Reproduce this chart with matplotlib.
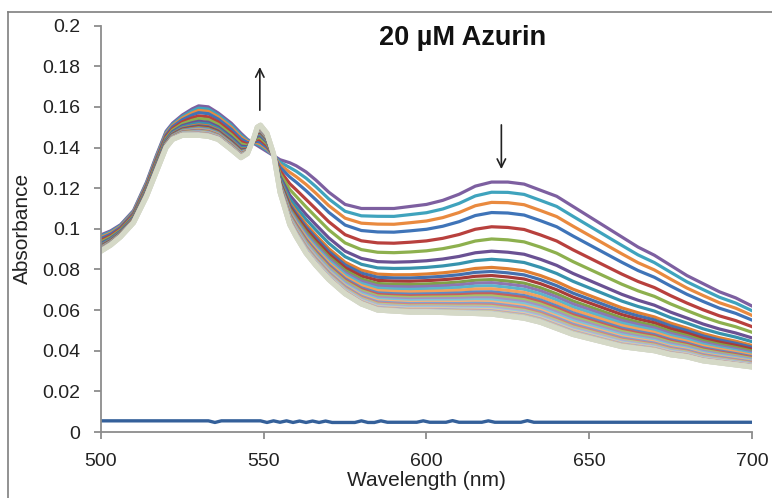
import numpy as np
import matplotlib
matplotlib.use("Agg")
import matplotlib.pyplot as plt
from matplotlib.lines import Line2D
from matplotlib.ticker import FuncFormatter

plt.rcParams['font.family'] = ['Liberation Sans', 'DejaVu Sans']

# wavelength grid (nm) shared by the first and the last spectrum
wavelength = [500, 503, 506, 510, 514, 517, 520, 522, 525, 528, 530, 533, 536, 540, 543,
              545, 547, 548, 549, 551, 553, 555, 558, 560, 563, 566, 570, 575, 580, 585,
              590, 595, 600, 605, 610, 615, 620, 625, 630, 635, 640, 645, 650, 655, 660,
              665, 670, 675, 680, 685, 690, 695, 700]

# first spectrum (highest at 620 nm)
first_spec = [0.097, 0.099, 0.102, 0.109, 0.123, 0.136, 0.148, 0.152, 0.156, 0.159, 0.1605,
              0.160, 0.157, 0.152, 0.147, 0.144, 0.142, 0.141, 0.140, 0.138, 0.136, 0.134,
              0.1325, 0.131, 0.128, 0.124, 0.118, 0.112, 0.110, 0.110, 0.110, 0.111, 0.112,
              0.114, 0.117, 0.121, 0.123, 0.123, 0.122, 0.119, 0.116, 0.111, 0.106, 0.101,
              0.096, 0.091, 0.087, 0.082, 0.077, 0.073, 0.069, 0.066, 0.062]

# last spectrum (lowest at 620 nm, grey)
last_spec = [0.089, 0.092, 0.096, 0.103, 0.116, 0.128, 0.140, 0.144, 0.146, 0.146, 0.146,
             0.1455, 0.144, 0.139, 0.135, 0.137, 0.145, 0.150, 0.151, 0.147, 0.137, 0.118,
             0.102, 0.096, 0.088, 0.082, 0.075, 0.068, 0.063, 0.060, 0.0595, 0.059, 0.059,
             0.0588, 0.0585, 0.0583, 0.058, 0.057, 0.056, 0.054, 0.051, 0.048, 0.046, 0.044,
             0.042, 0.041, 0.040, 0.038, 0.037, 0.035, 0.034, 0.033, 0.032]

# absorbance of every spectrum at 620 nm, read top to bottom
level_620 = [0.123, 0.118, 0.113, 0.108, 0.101, 0.095, 0.089, 0.085, 0.081, 0.079,
             0.077, 0.075, 0.0735, 0.072, 0.0705, 0.069, 0.068, 0.067, 0.066, 0.065,
             0.064, 0.0632, 0.0625, 0.0618, 0.0612, 0.0606, 0.0601, 0.0597, 0.0594, 0.0591,
             0.0588, 0.0586, 0.0584, 0.0583, 0.0582, 0.0581, 0.0581, 0.058, 0.058, 0.058]

# blank baseline
base_wl = [500, 533, 535, 537, 549, 551, 553, 555, 557, 559, 561, 563, 565, 567, 569, 571,
           573, 578, 580, 582, 584, 586, 588, 590, 597, 599, 601, 606, 608, 610, 617, 619,
           621, 629, 631, 633, 700]
base_val = [0.0055, 0.0055, 0.0047, 0.0055, 0.0055, 0.0047, 0.0055, 0.0048, 0.0055, 0.0047,
            0.0054, 0.0047, 0.0054, 0.0047, 0.0054, 0.0047, 0.0047, 0.0047, 0.0055, 0.0047,
            0.0047, 0.0055, 0.0048, 0.0048, 0.0048, 0.0055, 0.0048, 0.0048, 0.0056, 0.0048,
            0.0048, 0.0055, 0.0048, 0.0048, 0.0056, 0.0048, 0.0048]

colors = ['#7D5FA0', '#3FA3BD', '#E98A3F', '#3F74B8', '#B8403D', '#8DB04E',
          '#6A5193', '#3793AD', '#E07F32', '#4470AE', '#A83B38', '#7FA148',
          '#8F76B0', '#5BB5CC', '#F5A05A', '#5D8BC6', '#C75F5C', '#A5C26A',
          '#A592C2', '#7FC4D6', '#F8B27A', '#7FA2D2', '#D48482', '#B7CE88',
          '#B8A9CF', '#9ACFDD', '#F9C49A', '#9AB6DB', '#DCA09E', '#C6D7A0',
          '#C8BDD9', '#B2D9E3', '#F9D2B4', '#B3C6E2', '#E4B7B6', '#D2DDB6',
          '#D6D2D8', '#D3D8CF', '#D6D8C8', '#D5D9C7']

wl = np.array(wavelength, dtype=float)
top = np.array(first_spec)
bot = np.array(last_spec)
i620 = wavelength.index(620)

fig = plt.figure(figsize=(7.72, 4.98), dpi=100)
ax = fig.add_axes([0.1308, 0.1325, 0.8433, 0.8161])

ax.plot(base_wl, base_val, color='#34609A', lw=2.4, solid_joinstyle='round')

n = len(level_620)
for i, lvl in enumerate(level_620):
    frac = (lvl - bot[i620]) / (top[i620] - bot[i620])
    y = bot + frac * (top - bot)
    lw = 3.6 if i >= n - 3 else 2.3
    ax.plot(wl, y, color=colors[i], lw=lw, solid_joinstyle='round')

ax.set_xlim(500, 700)
ax.set_ylim(0, 0.2)
ax.set_xticks([500, 550, 600, 650, 700])
ax.set_yticks(np.arange(0, 0.201, 0.02))
ax.yaxis.set_major_formatter(FuncFormatter(lambda v, p: '%g' % round(v, 2)))

for s in ['top', 'right']:
    ax.spines[s].set_visible(False)
for s in ['left', 'bottom']:
    ax.spines[s].set_color('#8C8C8C')
    ax.spines[s].set_linewidth(1.3)
ax.tick_params(axis='both', colors='#8C8C8C', length=5, width=1.3, labelsize=14,
               labelcolor='#222222')
ax.tick_params(axis='x', pad=10)
ax.tick_params(axis='y', pad=10)

ax.set_xlabel('Wavelength (nm)', fontsize=15, color='#222222', labelpad=1)
ax.set_ylabel('Absorbance', fontsize=15, color='#222222', labelpad=7)

ax.text(0.556, 0.969, '20 µM Azurin', transform=ax.transAxes, ha='center', va='center',
        fontsize=19.5, fontweight='bold', color='#111111')

ax.annotate('', xy=(548.8, 0.181), xytext=(548.8, 0.157),
            arrowprops=dict(arrowstyle='->,head_length=0.6,head_width=0.3', lw=1.2, color='#222222'))
ax.annotate('', xy=(623, 0.128), xytext=(623, 0.1525),
            arrowprops=dict(arrowstyle='->,head_length=0.6,head_width=0.3', lw=1.2, color='#222222'))

# outer frame (only left and top edges visible in the crop)
fig.add_artist(Line2D([8 / 772, 8 / 772], [0, 1 - 12 / 498], transform=fig.transFigure,
                      color='#7F7F7F', lw=1.2))
fig.add_artist(Line2D([8 / 772, 1], [1 - 12 / 498, 1 - 12 / 498], transform=fig.transFigure,
                      color='#7F7F7F', lw=1.2))

fig.savefig('out.png', dpi=100)
